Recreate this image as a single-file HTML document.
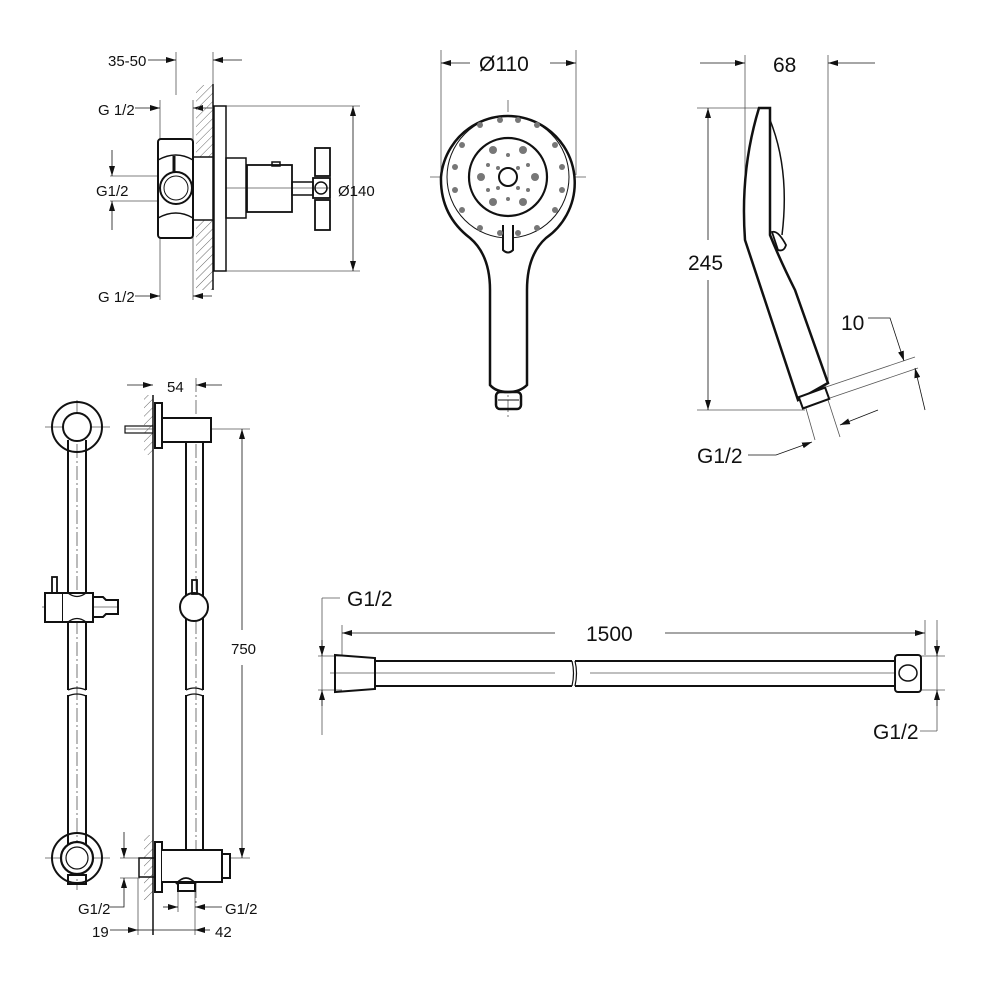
<!DOCTYPE html>
<html><head><meta charset="utf-8"><style>
html,body{margin:0;padding:0;background:#fff;}
svg{display:block;}
text{font-family:"Liberation Sans",sans-serif;fill:#111;}
</style></head><body>
<svg width="1000" height="1000" viewBox="0 0 1000 1000" xmlns="http://www.w3.org/2000/svg">
<defs>
<marker id="a" viewBox="0 0 10 6" refX="10" refY="3" markerWidth="10" markerHeight="6" orient="auto" markerUnits="userSpaceOnUse"><path d="M0,0 L10,3 L0,6z" fill="#111"/></marker>
<pattern id="h" width="6" height="6" patternUnits="userSpaceOnUse" patternTransform="rotate(45)"><line x1="0" y1="0" x2="0" y2="6" stroke="#666" stroke-width="1"/></pattern>
</defs>
<g fill="none" stroke="#111">
<g stroke-width="0.8" stroke="#555">
<line x1="176" y1="52" x2="176" y2="95"/><line x1="213" y1="52" x2="213" y2="85"/>
<line x1="160" y1="100" x2="160" y2="300"/><line x1="193" y1="100" x2="193" y2="300"/>
<line x1="226" y1="106" x2="360" y2="106"/><line x1="226" y1="271" x2="360" y2="271"/>
<line x1="110" y1="176" x2="160" y2="176"/><line x1="110" y1="201" x2="160" y2="201"/>
<line x1="160" y1="188" x2="330" y2="188"/>
</g>
<line x1="148" y1="60" x2="176" y2="60" marker-end="url(#a)" stroke-width="0.8"/>
<line x1="242" y1="60" x2="213" y2="60" marker-end="url(#a)" stroke-width="0.8"/>
<line x1="135" y1="108" x2="160" y2="108" marker-end="url(#a)" stroke-width="0.8"/>
<line x1="212" y1="108" x2="193" y2="108" marker-end="url(#a)" stroke-width="0.8"/>
<line x1="135" y1="296" x2="160" y2="296" marker-end="url(#a)" stroke-width="0.8"/>
<line x1="212" y1="296" x2="193" y2="296" marker-end="url(#a)" stroke-width="0.8"/>
<line x1="112" y1="150" x2="112" y2="176" marker-end="url(#a)" stroke-width="0.8"/>
<line x1="112" y1="230" x2="112" y2="201" marker-end="url(#a)" stroke-width="0.8"/>
<line x1="353" y1="188" x2="353" y2="106" marker-end="url(#a)" stroke-width="0.8"/>
<line x1="353" y1="188" x2="353" y2="271" marker-end="url(#a)" stroke-width="0.8"/>
<rect x="196" y="85" width="17" height="205" fill="url(#h)" stroke="none"/>
<line x1="213" y1="84" x2="213" y2="290" stroke-width="1.5"/>
<rect x="214" y="106" width="12" height="165" stroke-width="1.5" fill="#fff"/>
<rect x="193" y="157" width="20" height="63" stroke-width="1.5" fill="#fff"/>
<rect x="158" y="139" width="35" height="99" rx="3" stroke-width="2" fill="#fff"/>
<path d="M158,160 Q176,150 193,160 M158,218 Q176,208 193,218" stroke-width="1.5"/>
<circle cx="176" cy="188" r="16" stroke-width="2"/><circle cx="176" cy="188" r="12" stroke-width="1"/>
<line x1="174" y1="156" x2="174" y2="172" stroke-width="3"/>
<rect x="226" y="158" width="20" height="60" stroke-width="1.5"/>
<rect x="247" y="165" width="45" height="47" stroke-width="1.8"/>
<rect x="272" y="162" width="8" height="4" stroke-width="1.5"/>
<rect x="292" y="182" width="21" height="13" stroke-width="1.5"/>
<rect x="313" y="178" width="17" height="20" stroke-width="1.8"/>
<circle cx="321" cy="188" r="6" stroke-width="1.5"/>
<rect x="315" y="148" width="15" height="28" stroke-width="1.8"/>
<rect x="315" y="200" width="15" height="30" stroke-width="1.8"/>
<g stroke-width="0.8" stroke="#555">
<line x1="441" y1="50" x2="441" y2="175"/><line x1="576" y1="50" x2="576" y2="175"/>
<line x1="430" y1="177" x2="586" y2="177"/><line x1="508" y1="100" x2="508" y2="420" stroke-dasharray="12,3,2,3"/>
</g>
<line x1="470" y1="63" x2="441" y2="63" marker-end="url(#a)" stroke-width="0.8"/>
<line x1="550" y1="63" x2="576" y2="63" marker-end="url(#a)" stroke-width="0.8"/>
<path d="M470,238 Q440,215 441,177 A67,67 0 1 1 546,238 Q527,255 527,290 L527,385 Q520,392 508,392 Q496,392 490,385 L490,290 Q490,255 470,238Z" stroke-width="2.5" fill="#fff"/>
<circle cx="508" cy="177" r="61" stroke-width="1"/>
<circle cx="508" cy="177" r="39" stroke-width="2.2"/>
<circle cx="508" cy="177" r="9" stroke-width="2"/>
<path d="M503,225 L503,250 Q508,255 513,250 L513,225" stroke-width="2" fill="#fff"/>
<rect x="496" y="392" width="25" height="17" rx="4" stroke-width="2.5"/>
<line x1="498" y1="400" x2="519" y2="400" stroke-width="1"/>
<g fill="#777" stroke="none">
<circle cx="480" cy="125" r="3"/><circle cx="500" cy="120" r="3"/><circle cx="518" cy="120" r="3"/><circle cx="537" cy="125" r="3"/>
<circle cx="462" cy="145" r="3"/><circle cx="555" cy="145" r="3"/><circle cx="455" cy="167" r="3"/><circle cx="562" cy="167" r="3"/>
<circle cx="455" cy="190" r="3"/><circle cx="562" cy="190" r="3"/><circle cx="462" cy="210" r="3"/><circle cx="555" cy="210" r="3"/>
<circle cx="480" cy="228" r="3"/><circle cx="537" cy="228" r="3"/><circle cx="500" cy="233" r="3"/><circle cx="518" cy="233" r="3"/>
<circle cx="493" cy="150" r="4"/><circle cx="523" cy="150" r="4"/><circle cx="481" cy="177" r="4"/><circle cx="535" cy="177" r="4"/>
<circle cx="493" cy="202" r="4"/><circle cx="523" cy="202" r="4"/>
<circle cx="508" cy="155" r="2"/><circle cx="508" cy="199" r="2"/><circle cx="488" cy="165" r="2"/><circle cx="528" cy="165" r="2"/>
<circle cx="488" cy="190" r="2"/><circle cx="528" cy="190" r="2"/><circle cx="498" cy="168" r="2"/><circle cx="518" cy="168" r="2"/>
<circle cx="498" cy="188" r="2"/><circle cx="518" cy="188" r="2"/>
</g>
<g stroke-width="0.8" stroke="#555">
<line x1="745" y1="55" x2="745" y2="200"/><line x1="828" y1="55" x2="828" y2="380"/>
<line x1="697" y1="108" x2="760" y2="108"/><line x1="697" y1="410" x2="805" y2="410"/>
<line x1="826" y1="387" x2="915" y2="357"/><line x1="830" y1="398" x2="918" y2="368"/>
<line x1="805" y1="405" x2="815" y2="440"/><line x1="828" y1="400" x2="840" y2="437"/>
</g>
<line x1="700" y1="63" x2="745" y2="63" marker-end="url(#a)" stroke-width="0.8"/>
<line x1="875" y1="63" x2="828" y2="63" marker-end="url(#a)" stroke-width="0.8"/>
<line x1="708" y1="240" x2="708" y2="108" marker-end="url(#a)" stroke-width="0.8"/>
<line x1="708" y1="280" x2="708" y2="410" marker-end="url(#a)" stroke-width="0.8"/>
<path d="M868,318 L890,318 L904,361" stroke-width="0.8" marker-end="url(#a)"/>
<line x1="925" y1="410" x2="915" y2="368" stroke-width="0.8" marker-end="url(#a)"/>
<path d="M748,455 L776,455 L812,442" stroke-width="0.8" marker-end="url(#a)"/>
<line x1="878" y1="410" x2="840" y2="425" stroke-width="0.8" marker-end="url(#a)"/>
<path d="M759,108 L770,108 L770,235 Q780,260 795,290 L828,383 L798,400 L745,240 Q740,170 759,108Z" stroke-width="2.5" fill="#fff"/>
<path d="M770,120 Q790,170 782,235" stroke-width="1.5"/>
<path d="M772,232 Q778,230 786,245 Q784,252 778,250 Z" stroke-width="1.8"/>
<rect x="800" y="392" width="28" height="12" transform="rotate(-20 814 398)" stroke-width="2" fill="#fff"/>
<g stroke-width="0.8" stroke="#555">
<line x1="342" y1="625" x2="342" y2="655"/><line x1="925" y1="620" x2="925" y2="655"/>
<line x1="318" y1="656" x2="342" y2="656"/><line x1="318" y1="690" x2="342" y2="690"/>
<line x1="920" y1="656" x2="945" y2="656"/><line x1="920" y1="690" x2="945" y2="690"/>
<line x1="330" y1="673" x2="555" y2="673"/><line x1="590" y1="673" x2="920" y2="673"/>
<line x1="322" y1="598" x2="322" y2="735"/><line x1="322" y1="598" x2="340" y2="598"/>
<line x1="937" y1="620" x2="937" y2="731"/><line x1="920" y1="731" x2="937" y2="731"/>
</g>
<line x1="322" y1="640" x2="322" y2="656" marker-end="url(#a)" stroke-width="0.8"/>
<line x1="322" y1="706" x2="322" y2="690" marker-end="url(#a)" stroke-width="0.8"/>
<line x1="937" y1="640" x2="937" y2="656" marker-end="url(#a)" stroke-width="0.8"/>
<line x1="937" y1="706" x2="937" y2="690" marker-end="url(#a)" stroke-width="0.8"/>
<line x1="555" y1="633" x2="342" y2="633" marker-end="url(#a)" stroke-width="0.8"/>
<line x1="665" y1="633" x2="925" y2="633" marker-end="url(#a)" stroke-width="0.8"/>
<path d="M335,655 L375,658 L375,689 L335,692Z" stroke-width="2"/>
<path d="M375,661 L572,661 M375,686 L572,686 M575,661 L895,661 M575,686 L895,686" stroke-width="2"/>
<path d="M572,661 Q575,673 572,686 M575,661 Q578,673 575,686" stroke-width="1.2"/>
<rect x="895" y="655" width="26" height="37" rx="3" stroke-width="2" fill="#fff"/>
<ellipse cx="908" cy="673" rx="9" ry="8" stroke-width="1.5"/>
<g stroke-width="0.8" stroke="#555">
<line x1="45" y1="427" x2="110" y2="427"/><line x1="45" y1="858" x2="110" y2="858"/>
<line x1="77" y1="400" x2="77" y2="890" stroke-dasharray="14,3,2,3"/><line x1="42" y1="607" x2="118" y2="607"/>
</g>
<circle cx="77" cy="427" r="25" stroke-width="2"/>
<circle cx="77" cy="858" r="25" stroke-width="2"/>
<path d="M68,440 L68,690 M86,440 L86,690 M68,695 L68,846 M86,695 L86,846" stroke-width="2"/>
<path d="M68,690 Q77,686 86,690 M68,696 Q77,692 86,696" stroke-width="1.3"/>
<circle cx="77" cy="427" r="14" stroke-width="2" fill="#fff"/>
<rect x="45" y="593" width="18" height="29" stroke-width="2" fill="#fff"/>
<path d="M63,593 L93,593 L93,622 L63,622" stroke-width="2" fill="#fff"/>
<path d="M68,593 Q77,600 86,593 M68,622 Q77,615 86,622" stroke-width="1.3"/>
<path d="M93,597 L103,597 L106,600 L118,600 L118,614 L106,614 L103,617 L93,617" stroke-width="2"/>
<rect x="52" y="577" width="5" height="16" stroke-width="1.8"/>
<circle cx="77" cy="858" r="16" stroke-width="2.2" fill="#fff"/><circle cx="77" cy="858" r="11" stroke-width="1.2"/>
<rect x="68" y="875" width="18" height="9" stroke-width="2"/>
<rect x="144" y="395" width="9" height="60" fill="url(#h)" stroke="none"/>
<rect x="144" y="835" width="9" height="65" fill="url(#h)" stroke="none"/>
<line x1="153" y1="395" x2="153" y2="935" stroke-width="1.5"/>
<g stroke-width="0.8" stroke="#555">
<line x1="196" y1="378" x2="196" y2="905" stroke-dasharray="14,3,2,3"/>
<line x1="125" y1="429" x2="250" y2="429"/><line x1="120" y1="858" x2="250" y2="858"/>
<line x1="120" y1="878" x2="140" y2="878"/>
<line x1="138" y1="878" x2="138" y2="935"/>
<line x1="178" y1="890" x2="178" y2="912"/><line x1="195" y1="890" x2="195" y2="935"/>
</g>
<line x1="127" y1="385" x2="153" y2="385" marker-end="url(#a)" stroke-width="0.8"/>
<line x1="222" y1="385" x2="196" y2="385" marker-end="url(#a)" stroke-width="0.8"/>
<line x1="242" y1="630" x2="242" y2="429" marker-end="url(#a)" stroke-width="0.8"/>
<line x1="242" y1="665" x2="242" y2="858" marker-end="url(#a)" stroke-width="0.8"/>
<line x1="124" y1="832" x2="124" y2="858" marker-end="url(#a)" stroke-width="0.8"/>
<path d="M110,907 L124,907 L124,878" marker-end="url(#a)" stroke-width="0.8"/>
<line x1="163" y1="907" x2="178" y2="907" marker-end="url(#a)" stroke-width="0.8"/>
<line x1="222" y1="907" x2="195" y2="907" marker-end="url(#a)" stroke-width="0.8"/>
<line x1="110" y1="930" x2="138" y2="930" marker-end="url(#a)" stroke-width="0.8"/>
<line x1="153" y1="930" x2="138" y2="930" stroke-width="0.8"/>
<line x1="210" y1="930" x2="195" y2="930" marker-end="url(#a)" stroke-width="0.8"/>
<line x1="153" y1="930" x2="195" y2="930" stroke-width="0.8"/>
<rect x="125" y="426" width="28" height="7" stroke-width="1.2"/>
<rect x="155" y="403" width="7" height="45" stroke-width="2" fill="#fff"/>
<rect x="162" y="418" width="49" height="24" stroke-width="2" fill="#fff"/>
<path d="M186,442 L186,690 M203,442 L203,690 M186,695 L186,850 M203,695 L203,850" stroke-width="2"/>
<path d="M186,690 Q194,686 203,690 M186,696 Q194,692 203,696" stroke-width="1.3"/>
<circle cx="194" cy="607" r="14" stroke-width="2" fill="#fff"/>
<rect x="192" y="580" width="5" height="14" stroke-width="1.8"/>
<rect x="155" y="842" width="7" height="50" stroke-width="2" fill="#fff"/>
<rect x="139" y="858" width="16" height="19" stroke-width="1.5"/>
<path d="M162,850 L222,850 L222,882 L162,882" stroke-width="2" fill="#fff"/>
<rect x="222" y="854" width="8" height="24" stroke-width="2" fill="#fff"/>
<path d="M176,884 Q186,872 196,884" stroke-width="1.8"/>
<rect x="178" y="883" width="17" height="8" stroke-width="2"/>
</g>
<g font-size="15">
<text x="108" y="66">35-50</text>
<text x="98" y="115">G 1/2</text>
<text x="96" y="196">G1/2</text>
<text x="98" y="302">G 1/2</text>
<text x="338" y="196">Ø140</text>
<text x="167" y="392">54</text>
<text x="231" y="654">750</text>
<text x="78" y="914">G1/2</text>
<text x="225" y="914">G1/2</text>
<text x="92" y="937">19</text>
<text x="215" y="937">42</text>
</g>
<g font-size="21">
<text x="479" y="71">Ø110</text>
<text x="773" y="72">68</text>
<text x="688" y="270">245</text>
<text x="841" y="330">10</text>
<text x="697" y="463">G1/2</text>
<text x="347" y="606">G1/2</text>
<text x="586" y="641">1500</text>
<text x="873" y="739">G1/2</text>
</g>
</svg>
</body></html>
